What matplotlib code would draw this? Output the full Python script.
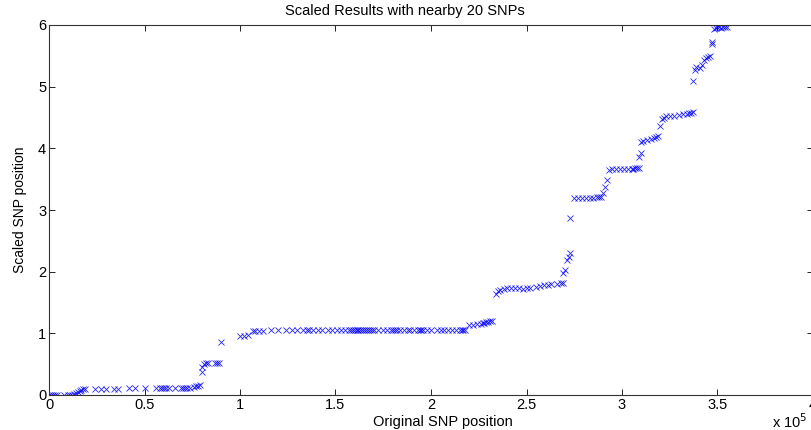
import numpy as np
import matplotlib.pyplot as plt
from matplotlib.ticker import MultipleLocator, FuncFormatter

plt.rcParams['font.family'] = ['Liberation Sans', 'DejaVu Sans']

# Original SNP positions (units of 1e5) and scaled positions
pos_low = [0.00, 0.01, 0.02, 0.03, 0.04, 0.08, 0.10, 0.11, 0.12, 0.13,
           0.14, 0.15, 0.16, 0.17, 0.18, 0.19, 0.24, 0.27, 0.30, 0.34, 0.36,
           0.42, 0.45, 0.50, 0.56, 0.58, 0.59, 0.60, 0.61, 0.63, 0.66,
           0.69, 0.70, 0.71, 0.72, 0.74, 0.76, 0.77, 0.78, 0.79]
scl_low = [0.00, 0.00, 0.00, 0.00, 0.00, 0.00, 0.00, 0.00, 0.00, 0.01,
           0.03, 0.05, 0.07, 0.08, 0.09, 0.10, 0.10, 0.10, 0.10, 0.10, 0.10,
           0.11, 0.11, 0.11, 0.11, 0.11, 0.11, 0.11, 0.11, 0.11, 0.11,
           0.12, 0.12, 0.12, 0.12, 0.12, 0.13, 0.14, 0.15, 0.16]

pos_step1 = [0.80, 0.80, 0.81, 0.82, 0.83, 0.87, 0.88, 0.89, 0.90,
             1.00, 1.02, 1.04, 1.07, 1.08, 1.10, 1.12]
scl_step1 = [0.38, 0.45, 0.50, 0.52, 0.52, 0.52, 0.52, 0.52, 0.86,
             0.96, 0.96, 0.98, 1.03, 1.04, 1.04, 1.04]

pos_flat = [1.16, 1.20, 1.24, 1.27, 1.30, 1.33, 1.35, 1.36, 1.38, 1.41,
            1.43, 1.46, 1.48, 1.51, 1.53, 1.55, 1.57, 1.58, 1.59, 1.60,
            1.61, 1.62, 1.63, 1.64, 1.65, 1.66, 1.67, 1.68, 1.69, 1.70,
            1.72, 1.75, 1.77, 1.79, 1.80, 1.81, 1.82, 1.84, 1.86, 1.88,
            1.89, 1.91, 1.93, 1.94, 1.95, 1.96, 1.98, 2.00, 2.03, 2.05,
            2.07, 2.09, 2.11, 2.13, 2.15, 2.16, 2.17, 2.18]
scl_flat = [1.05] * len(pos_flat)

pos_mid = [2.20, 2.22, 2.24, 2.26, 2.27, 2.28, 2.29, 2.30, 2.31, 2.32,
           2.34, 2.35, 2.36, 2.38, 2.40, 2.42, 2.44, 2.46, 2.48, 2.50, 2.52,
           2.55, 2.57, 2.59, 2.61, 2.63, 2.66, 2.68, 2.69, 2.69, 2.70,
           2.71, 2.72, 2.73, 2.73]
scl_mid = [1.14, 1.14, 1.15, 1.15, 1.16, 1.17, 1.18, 1.19, 1.20, 1.20,
           1.64, 1.68, 1.70, 1.72, 1.73, 1.73, 1.73, 1.73, 1.72, 1.73, 1.73,
           1.75, 1.76, 1.78, 1.79, 1.80, 1.80, 1.81, 1.82, 1.98, 2.03,
           2.19, 2.24, 2.30, 2.87]

pos_high = [2.75, 2.77, 2.79, 2.81, 2.83, 2.85, 2.87, 2.88, 2.89,
            2.90, 2.91, 2.92,
            2.93, 2.95, 2.97, 2.99, 3.01, 3.03, 3.05, 3.06, 3.07, 3.08, 3.09,
            3.09, 3.10,
            3.10, 3.11, 3.13, 3.15, 3.17, 3.18, 3.19,
            3.20, 3.21, 3.22, 3.23,
            3.25, 3.27, 3.30, 3.32, 3.34, 3.35, 3.36, 3.37,
            3.37, 3.38, 3.39, 3.41, 3.42,
            3.43, 3.44, 3.45, 3.46, 3.47, 3.47,
            3.48, 3.49, 3.50, 3.51, 3.52, 3.53, 3.54, 3.55]
scl_high = [3.19, 3.20, 3.20, 3.20, 3.20, 3.20, 3.21, 3.21, 3.21,
            3.27, 3.37, 3.49,
            3.65, 3.66, 3.66, 3.67, 3.67, 3.67, 3.67, 3.67, 3.68, 3.68, 3.68,
            3.86, 3.93,
            4.11, 4.12, 4.13, 4.15, 4.17, 4.19, 4.20,
            4.37, 4.47, 4.50, 4.52,
            4.53, 4.53, 4.54, 4.55, 4.56, 4.57, 4.58, 4.59,
            5.10, 5.27, 5.32, 5.30, 5.35,
            5.43, 5.46, 5.48, 5.50, 5.70, 5.72,
            5.94, 5.95, 5.96, 5.96, 5.95, 5.96, 5.96, 5.97]

orig_pos = np.array(pos_low + pos_step1 + pos_flat + pos_mid + pos_high) * 1e5
scaled_pos = np.array(scl_low + scl_step1 + scl_flat + scl_mid + scl_high)

fig = plt.figure(figsize=(8.11, 4.30), dpi=100)
# the original figure is cropped: the axes run slightly past the right edge
ax = fig.add_axes([49 / 811, 35 / 430, 764 / 811, 370 / 430])

ax.plot(orig_pos, scaled_pos, 'x', color='#0000ff', markersize=5,
        markeredgewidth=0.6, alpha=0.85, linestyle='none')

ax.set_xlim(0, 4e5)
ax.set_ylim(0, 6)
ax.xaxis.set_major_locator(MultipleLocator(5e4))
ax.xaxis.set_major_formatter(FuncFormatter(lambda v, p: '%g' % (v / 1e5)))
ax.yaxis.set_major_locator(MultipleLocator(1))
ax.tick_params(direction='in', top=True, right=True, length=4,
               labelsize=10.5, width=0.6, pad=2)
for s in ax.spines.values():
    s.set_linewidth(0.8)
    s.set_color('#333333')

ax.set_title('Scaled Results with nearby 20 SNPs', fontsize=10.5, pad=7,
             x=0.466)
ax.set_xlabel('Original SNP position', fontsize=10.5, labelpad=0)
ax.xaxis.set_label_coords(0.516, -0.055)
ax.set_ylabel('Scaled SNP position', fontsize=10, labelpad=8)
fig.text(772 / 811, 2 / 430, r'x 10$^5$', fontsize=10.5)

fig.savefig('out.png', dpi=100)
